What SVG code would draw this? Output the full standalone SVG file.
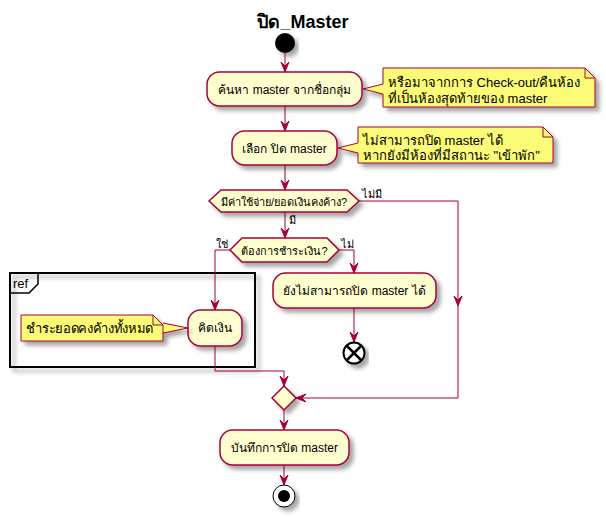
<svg xmlns="http://www.w3.org/2000/svg" width="606" height="517" viewBox="0 0 606 517">
<style>
text{font-family:"Liberation Sans","Noto Sans","DejaVu Sans",sans-serif;fill:#000}
.act{fill:#FEFECE;stroke:#A80036;stroke-width:1.5}
.note{fill:#FBFB77;stroke:#A80036;stroke-width:1}
.fold{fill:none;stroke:#A80036;stroke-width:1}
.ln{fill:none;stroke:#A80036;stroke-width:1}
.ah{fill:#A80036;stroke:#A80036;stroke-width:1}
.t12{font-size:12px}
.t13{font-size:13px}
.t11{font-size:11px}
</style>
<defs>
<filter id="sh" x="-20%" y="-20%" width="140%" height="160%">
<feGaussianBlur in="SourceAlpha" stdDeviation="2"/>
<feColorMatrix type="matrix" values="0 0 0 0 0  0 0 0 0 0  0 0 0 0 0  0 0 0 0.35 0"/>
<feOffset dx="4" dy="4" result="b"/>
<feMerge><feMergeNode in="b"/><feMergeNode in="SourceGraphic"/></feMerge>
</filter>
<path id="ad" d="M-4,-10 L0,0 L4,-10 L0,-6 Z"/>
</defs>

<text x="303" y="28" text-anchor="middle" style="font-size:18px;font-weight:bold">ปิด_Master</text>

<g id="start"><circle cx="285" cy="43" r="10" fill="#000" filter="url(#sh)"/></g>

<g id="ref">
<rect x="10" y="273" width="245" height="94" fill="none" stroke="#000" stroke-width="2" filter="url(#sh)"/>
<path d="M10,273 L38,273 L38,284 L29,293 L10,293" fill="none" stroke="#000" stroke-width="1.5"/>
<text x="13" y="288" class="t13">ref</text>
</g>

<g id="connectors">
<line class="ln" x1="285" y1="53" x2="285" y2="72"/><use href="#ad" class="ah" x="285" y="72"/>
<line class="ln" x1="285" y1="106" x2="285" y2="131"/><use href="#ad" class="ah" x="285" y="131"/>
<line class="ln" x1="285" y1="165" x2="285" y2="190"/><use href="#ad" class="ah" x="285" y="190"/>
<line class="ln" x1="285" y1="212" x2="285" y2="238"/><use href="#ad" class="ah" x="285" y="238"/>
<polyline class="ln" points="359,201 458,201 458,398 296,398"/>
<use href="#ad" class="ah" transform="translate(458,306)"/>
<use href="#ad" class="ah" transform="translate(296,398) rotate(90)"/>
<polyline class="ln" points="230,250 215,250 215,310"/><use href="#ad" class="ah" x="215" y="310"/>
<polyline class="ln" points="339,250 354,250 354,273"/><use href="#ad" class="ah" x="354" y="273"/>
<line class="ln" x1="354" y1="308" x2="354" y2="342"/><use href="#ad" class="ah" x="354" y="342"/>
<polyline class="ln" points="215,346 215,371 284,371 284,386"/><use href="#ad" class="ah" x="284" y="386"/>
<line class="ln" x1="284" y1="410" x2="284" y2="430"/><use href="#ad" class="ah" x="284" y="430"/>
<line class="ln" x1="284" y1="465" x2="284" y2="485"/><use href="#ad" class="ah" x="284" y="485"/>
<text x="362" y="198" class="t11">ไม่มี</text>
<text x="289" y="224" class="t11">มี</text>
<text x="228" y="248" class="t11" text-anchor="end">ใช่</text>
<text x="341" y="248" class="t11">ไม่</text>
</g>

<g id="n1">
<rect class="act" x="207" y="72" width="155" height="34" rx="12.5" filter="url(#sh)"/>
<text x="284.5" y="94" class="t12" text-anchor="middle">ค้นหา master จากชื่อกลุ่ม</text>
</g>
<g id="note1">
<path class="note" d="M383,68 L585,68 L595,78 L595,107 L383,107 L383,94 L363,89 L383,84 Z" filter="url(#sh)"/>
<path class="fold" d="M585,68 L585,78 L595,78"/>
<text x="388" y="87" class="t13">หรือมาจากการ Check-out/คืนห้อง</text>
<text x="388" y="103" class="t13">ที่เป็นห้องสุดท้ายของ master</text>
</g>

<g id="n2">
<rect class="act" x="232" y="131" width="105" height="34" rx="12.5" filter="url(#sh)"/>
<text x="284.5" y="153" class="t12" text-anchor="middle">เลือก ปิด master</text>
</g>
<g id="note2">
<path class="note" d="M358,127 L543,127 L553,137 L553,163 L358,163 L358,153 L338,148 L358,143 Z" filter="url(#sh)"/>
<path class="fold" d="M543,127 L543,137 L553,137"/>
<text x="363" y="145" class="t13">ไม่สามารถปิด master ได้</text>
<text x="363" y="160" class="t13">หากยังมีห้องที่มีสถานะ "เข้าพัก"</text>
</g>

<g id="d1">
<polygon class="act" points="209,201 221,190 347,190 359,201 347,212 221,212" filter="url(#sh)"/>
<text x="284" y="206" class="t11" text-anchor="middle">มีค่าใช้จ่าย/ยอดเงินคงค้าง?</text>
</g>

<g id="d2">
<polygon class="act" points="230,250 242,238 327,238 339,250 327,262 242,262" filter="url(#sh)"/>
<text x="284.5" y="255" class="t11" text-anchor="middle">ต้องการชำระเงิน?</text>
</g>

<g id="n3">
<rect class="act" x="273" y="273" width="163" height="35" rx="12.5" filter="url(#sh)"/>
<text x="354.5" y="295" class="t12" text-anchor="middle">ยังไม่สามารถปิด master ได้</text>
</g>

<g id="stop1">
<circle cx="354" cy="353" r="10.5" fill="#fff" stroke="#000" stroke-width="2" filter="url(#sh)"/>
<path d="M347,346 L361,360 M361,346 L347,360" stroke="#000" stroke-width="2.5"/>
</g>

<g id="n4">
<rect class="act" x="188" y="310" width="54" height="36" rx="12.5" filter="url(#sh)"/>
<text x="215" y="332" class="t12" text-anchor="middle">คิดเงิน</text>
</g>
<g id="note3">
<path class="note" d="M21,315 L153,315 L163,325 L163,341 L21,341 Z M163,323 L188,328 L163,333" filter="url(#sh)"/>
<path class="fold" d="M153,315 L153,325 L163,325"/>
<text x="26" y="333" class="t13" textLength="127">ชำระยอดคงค้างทั้งหมด</text>
</g>

<g id="merge">
<polygon class="act" points="284,386 296,398 284,410 272,398" filter="url(#sh)"/>
</g>

<g id="n5">
<rect class="act" x="220" y="430" width="129" height="35" rx="12.5" filter="url(#sh)"/>
<text x="284.5" y="452" class="t12" text-anchor="middle">บันทึกการปิด master</text>
</g>

<g id="end">
<circle cx="284" cy="496" r="11" fill="#fff" stroke="#000" stroke-width="1" filter="url(#sh)"/>
<circle cx="284" cy="496" r="6" fill="#000"/>
</g>
</svg>
